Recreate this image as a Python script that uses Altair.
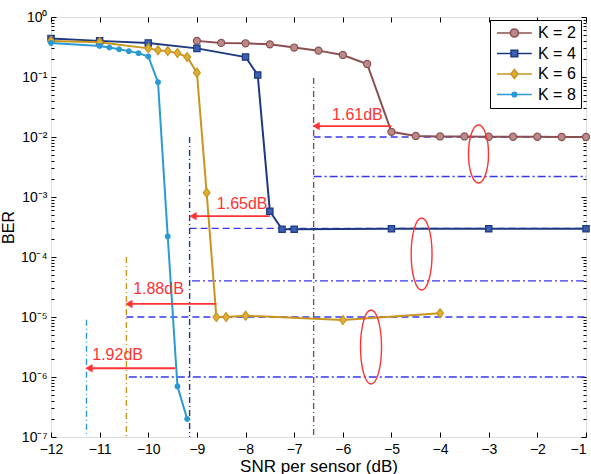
import altair as alt
import pandas as pd

FONT = "Liberation Sans"

# ---------------- data ----------------
labels = ["K = 2", "K = 4", "K = 6", "K = 8"]
line_colors = ["#8c4f50", "#1d3a80", "#c8961c", "#2a9ad4"]
fill_colors = ["#b98a8a", "#3d5fae", "#dcae3a", "#2a9ad4"]

k2_snr = [-9, -8.5, -8, -7.5, -7, -6.5, -6, -5.5, -5, -4.5, -4, -3.5, -3, -2.5, -2, -1.5, -1]
k2_ber = [0.40, 0.37, 0.365, 0.35, 0.31, 0.275, 0.233, 0.165, 0.0122, 0.0104,
          0.0102, 0.0102, 0.0101, 0.0101, 0.0101, 0.0100, 0.0100]

k4_snr = [-12, -11, -10, -9, -8, -7.75, -7.5, -7.25, -7, -5, -3, -1]
k4_ber = [0.44, 0.40, 0.37, 0.30, 0.215, 0.108, 5.8e-4, 2.9e-4, 2.9e-4, 2.95e-4, 2.95e-4, 2.95e-4]

k6_snr = [-12, -11, -10, -9.8, -9.6, -9.4, -9.2, -9.0, -8.8, -8.6, -8.4, -8.0, -6.0, -4.0]
k6_ber = [0.40, 0.38, 0.30, 0.28, 0.27, 0.25, 0.215, 0.118, 1.18e-3, 1.0e-5, 1.0e-5,
          1.05e-5, 8.9e-6, 1.15e-5]

k8_snr = [-12, -11, -10.8, -10.6, -10.4, -10.2, -10, -9.8, -9.6, -9.4, -9.2]
k8_ber = [0.37, 0.33, 0.31, 0.29, 0.27, 0.25, 0.22, 0.082, 2.2e-4, 7e-7, 2e-7]

# blue reference levels
dash_y = [1e-2, 3e-4, 1e-5]
dash_from = [-6.6, -9.15, -10.45]
dashdot_y = [2.2e-3, 4e-5, 1e-6]
dashdot_from = [-6.6, -9.1, -10.4]
ref_to = -1

# vertical markers (one per K)
vline_x = [-6.6, -9.15, -10.45, -11.27]
vline_top = [0.096, 1e-2, 1e-4, 9e-6]
vline_bottom = 1e-7

# red arrows and their labels
arrow_from = [-5.0, -7.5, -8.6, -9.45]
arrow_to = [-6.55, -9.08, -10.4, -11.22]
arrow_y = [0.0152, 4.8e-4, 1.65e-5, 1.4e-6]
arrow_text = ["1.61dB", "1.65dB", "1.88dB", "1.92dB"]
text_x = [-5.7, -8.07, -9.79, -10.63]
text_y = [0.0233, 7.6e-4, 2.9e-5, 2.33e-6]

# red ellipses (centres)
ell_x = [-3.21, -4.38, -5.42]
ell_y = [5.2e-3, 1.12e-4, 3.16e-6]

x_ticks = list(range(-12, 0))
y_major = [1, 1e-1, 1e-2, 1e-3, 1e-4, 1e-5, 1e-6, 1e-7]
y_minor = [m * 10.0 ** e for e in range(-7, 0) for m in range(2, 10)]

# ---------------- frames ----------------
rows = []
for lab, xs_, ys_ in zip(labels, [k2_snr, k4_snr, k6_snr, k8_snr], [k2_ber, k4_ber, k6_ber, k8_ber]):
    for a, b in zip(xs_, ys_):
        rows.append({"K": lab, "snr": a, "ber": b})
series = pd.DataFrame(rows)

dash_df = pd.DataFrame({"y": dash_y, "x": dash_from, "x2": [ref_to] * len(dash_y)})
dashdot_df = pd.DataFrame({"y": dashdot_y, "x": dashdot_from, "x2": [ref_to] * len(dashdot_y)})
vline_df = pd.DataFrame({"K": labels, "x": vline_x, "y": vline_top, "y2": [vline_bottom] * 4})
arrow_df = pd.DataFrame({"x": arrow_from, "x2": arrow_to, "y": arrow_y})
text_df = pd.DataFrame({"t": arrow_text, "x": text_x, "y": text_y})
ell_df = pd.DataFrame({"x": ell_x, "y": ell_y, "e": ["a", "b", "c"]})
# legend-only rows sit outside the visible x range and are clipped away
legend_df = pd.DataFrame({"K": labels, "snr": [-30] * 4, "ber": [0.01] * 4})
axis_df = pd.DataFrame({"snr": [-6], "ber": [0.01]})

# ---------------- scales ----------------
xs = alt.Scale(domain=[-12, -1], nice=False, zero=False)
ys = alt.Scale(type="log", domain=[1e-7, 1], nice=False)
stroke_scale = alt.Scale(domain=labels, range=line_colors)
fill_scale = alt.Scale(domain=labels, range=fill_colors)

RED = "#ff3333"
BLUE = "#3535f5"

sup = "['\u2070','\u207b\u00b9','\u207b\u00b2','\u207b\u00b3','\u207b\u2074','\u207b\u2075','\u207b\u2076','\u207b\u2077']"
y_label_expr = "'10' + " + sup + "[round(-log(datum.value)/LN10)]"

# legend layer (first, so its legend settings win the merge)
# symbol paths: a line segment with the series marker in its middle (unit = 6 px)
leg_paths = [
    "M -1 0 L 1.233 0 M 2.567 0 L 4.8 0 M 1.233 0 A 0.667 0.667 0 1 1 2.567 0 A 0.667 0.667 0 1 1 1.233 0 Z",
    "M -1 0 L 1.35 0 M 2.45 0 L 4.8 0 M 1.35 -0.55 L 2.45 -0.55 L 2.45 0.55 L 1.35 0.55 Z",
    "M -1 0 L 1.32 0 M 2.48 0 L 4.8 0 M 1.9 -0.75 L 2.48 0 L 1.9 0.75 L 1.32 0 Z",
    "M -1 0 L 1.52 0 M 2.28 0 L 4.8 0 M 1.52 0 A 0.38 0.38 0 1 1 2.28 0 A 0.38 0.38 0 1 1 1.52 0 Z",
]
leg = alt.Legend(orient="none", legendX=439, legendY=3, title=None, strokeColor="black",
                 fillColor="white", padding=5, symbolSize=144, symbolStrokeWidth=1.6,
                 symbolOpacity=1, labelFontSize=16, labelFont=FONT, labelOffset=27,
                 rowPadding=4.5, cornerRadius=0)
legend_layer = alt.Chart(legend_df).mark_point(filled=True, clip=True).encode(
    x=alt.X("snr:Q", scale=xs, axis=None), y=alt.Y("ber:Q", scale=ys, axis=None),
    fill=alt.Fill("K:N", scale=fill_scale, legend=leg),
    stroke=alt.Stroke("K:N", scale=stroke_scale, legend=leg),
    shape=alt.Shape("K:N", scale=alt.Scale(domain=labels, range=leg_paths), legend=leg))

# reference lines
dash_layer = alt.Chart(dash_df).mark_rule(color=BLUE, strokeWidth=1.4, strokeDash=[7, 4]).encode(
    x=alt.X("x:Q", scale=xs, axis=None), x2="x2:Q", y=alt.Y("y:Q", scale=ys, axis=None))
dashdot_layer = alt.Chart(dashdot_df).mark_rule(color=BLUE, strokeWidth=1.4, strokeDash=[8, 3, 2, 3]).encode(
    x=alt.X("x:Q", scale=xs, axis=None), x2="x2:Q", y=alt.Y("y:Q", scale=ys, axis=None))
vline_layer = alt.Chart(vline_df).mark_rule(strokeWidth=1.4, strokeDash=[6, 3, 1, 3]).encode(
    x=alt.X("x:Q", scale=xs, axis=None), y=alt.Y("y:Q", scale=ys, axis=None), y2="y2:Q",
    stroke=alt.Stroke("K:N", scale=stroke_scale, legend=None))

# series lines (carry the main axes)
lines = alt.Chart(series).mark_line(strokeWidth=2).encode(
    x=alt.X("snr:Q", scale=xs, axis=alt.Axis(
        orient="bottom", values=x_ticks, format="d", title="SNR per sensor (dB)",
        offset=-5, tickSize=5, domain=False, grid=False, labelFontSize=14, labelPadding=5,
        titleFontSize=17, titleFontWeight="normal", titlePadding=2, labelFlush=False,
        labelAlign={"condition": {"test": "datum.value == -1", "value": "right"}, "value": "center"})),
    y=alt.Y("ber:Q", scale=ys, axis=alt.Axis(
        orient="left", values=y_major, labelExpr=y_label_expr, title="BER",
        offset=-5, tickSize=5, domain=False, grid=False, labelFontSize=14, labelPadding=4,
        titleFontSize=16, titleFontWeight="normal", titlePadding=4, labelOverlap=False)),
    stroke=alt.Stroke("K:N", scale=stroke_scale, legend=None),
    detail="K:N")

diamond = "M 0 -1 L 0.75 0 L 0 1 L -0.75 0 Z"
marker_spec = [("K = 2", "circle", 50), ("K = 4", "square", 40), ("K = 6", diamond, 81), ("K = 8", "circle", 22)]
point_layers = []
for lab, shp, sz in marker_spec:
    point_layers.append(
        alt.Chart(series).transform_filter(alt.datum.K == lab).mark_point(
            shape=shp, size=sz, filled=True, strokeWidth=1.2, opacity=1).encode(
            x=alt.X("snr:Q", scale=xs, axis=None), y=alt.Y("ber:Q", scale=ys, axis=None),
            fill=alt.Fill("K:N", scale=fill_scale, legend=None),
            stroke=alt.Stroke("K:N", scale=stroke_scale, legend=None)))

arrows = alt.Chart(arrow_df).mark_rule(color=RED, strokeWidth=1.8).encode(
    x=alt.X("x:Q", scale=xs, axis=None), x2="x2:Q", y=alt.Y("y:Q", scale=ys, axis=None))
heads = alt.Chart(arrow_df).mark_point(shape="triangle-left", size=70, filled=True, color=RED, opacity=1).encode(
    x=alt.X("x2:Q", scale=xs, axis=None), y=alt.Y("y:Q", scale=ys, axis=None))
texts = alt.Chart(text_df).mark_text(color=RED, fontSize=16, font=FONT).encode(
    x=alt.X("x:Q", scale=xs, axis=None), y=alt.Y("y:Q", scale=ys, axis=None), text="t:N")

ell_shapes = {
    "a": ("M 0 -1 A 0.345 1 0 1 0 0 1 A 0.345 1 0 1 0 0 -1 Z", 3364),
    "b": ("M 0 -1 A 0.29 1 0 1 0 0 1 A 0.29 1 0 1 0 0 -1 Z", 5184),
    "c": ("M 0 -1 A 0.284 1 0 1 0 0 1 A 0.284 1 0 1 0 0 -1 Z", 5476),
}
ell_layers = []
for key, (path, sz) in ell_shapes.items():
    ell_layers.append(
        alt.Chart(ell_df).transform_filter(alt.datum.e == key).mark_point(
            shape=path, size=sz, filled=False, color=RED, strokeWidth=1.4, opacity=1).encode(
            x=alt.X("x:Q", scale=xs, axis=None), y=alt.Y("y:Q", scale=ys, axis=None)))

# extra axes: top ticks, right ticks, minor ticks
def axis_layer(xaxis, yaxis):
    return alt.Chart(axis_df).mark_point(opacity=0).encode(
        x=alt.X("snr:Q", scale=xs, axis=xaxis), y=alt.Y("ber:Q", scale=ys, axis=yaxis))

top_axis = axis_layer(alt.Axis(orient="top", values=x_ticks, labels=False, title=None, offset=-5,
                               tickSize=5, domain=False, grid=False), None)
right_major = axis_layer(None, alt.Axis(orient="right", values=y_major, labels=False, title=None,
                                        offset=-5, tickSize=5, domain=False, grid=False))
right_minor = axis_layer(None, alt.Axis(orient="right", values=y_minor, labels=False, title=None,
                                        offset=-3, tickSize=3, domain=False, grid=False))
left_minor = axis_layer(None, alt.Axis(orient="left", values=y_minor, labels=False, title=None,
                                       offset=-3, tickSize=3, domain=False, grid=False))

chart = alt.layer(
    legend_layer, dash_layer, dashdot_layer, vline_layer, lines, *point_layers, arrows, heads, texts,
    *ell_layers, top_axis, right_major, right_minor, left_minor
).resolve_axis(x="independent", y="independent").properties(
    width=535, height=420,
    autosize=alt.AutoSizeParams(type="none"),
    padding={"left": 51, "top": 17, "right": 5, "bottom": 37},
).configure_view(stroke="black", strokeWidth=1.2).configure(
    font=FONT, background="white"
).configure_axis(labelFont=FONT, titleFont=FONT, tickColor="black", labelColor="black",
                 titleColor="black", tickWidth=1)

chart.save("out.html", embed_options={"renderer": "svg", "actions": False})
